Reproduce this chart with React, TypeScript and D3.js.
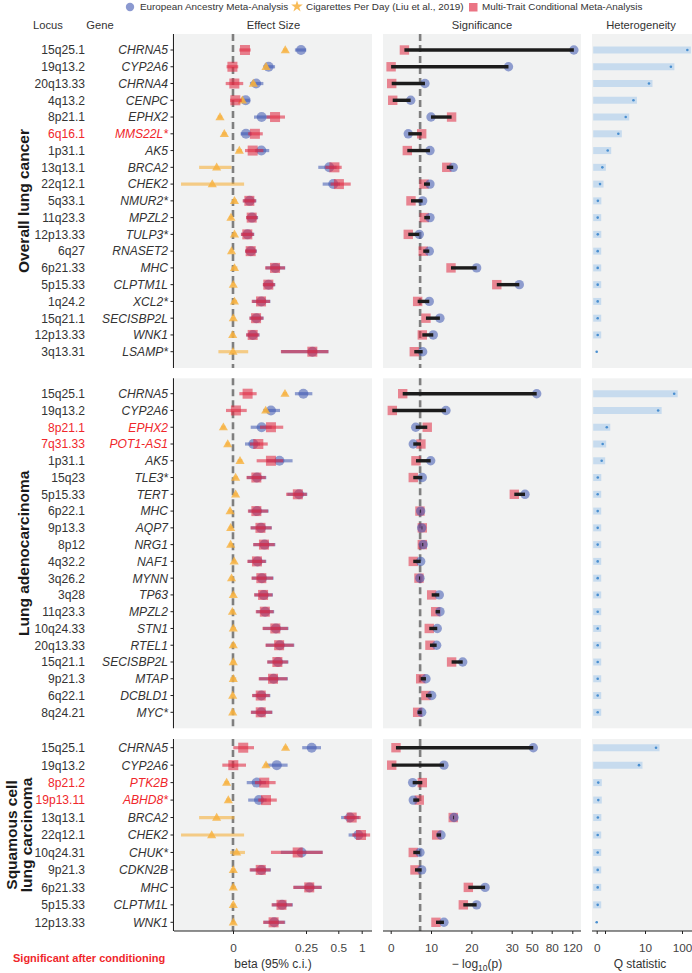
import React, { useEffect, useRef } from "react";
import * as d3 from "d3";

const FONT = "'Liberation Sans', Arial, Helvetica, sans-serif";

// ---------------- DATA ----------------
// [beta, lower 95%, upper 95%]
type CI = [number, number, number];

// Overall lung cancer
const overallLoci = ["15q25.1", "19q13.2", "20q13.33", "4q13.2", "8p21.1", "6q16.1", "1p31.1", "13q13.1", "22q12.1", "5q33.1", "11q23.3", "12p13.33", "6q27", "6p21.33", "5p15.33", "1q24.2", "15q21.1", "12p13.33", "3q13.31"];
const overallGenes = ["CHRNA5", "CYP2A6", "CHRNA4", "CENPC", "EPHX2", "MMS22L*", "AK5", "BRCA2", "CHEK2", "NMUR2*", "MPZL2", "TULP3*", "RNASET2", "MHC", "CLPTM1L", "XCL2*", "SECISBP2L", "WNK1", "LSAMP*"];
const overallHighlight = ["MMS22L*"];
const overallEA: CI[] = [[0.233, 0.212, 0.252], [0.122, 0.104, 0.144], [0.079, 0.058, 0.104], [0.0435, 0.026, 0.058], [0.098, 0.072, 0.127], [0.0445, 0.026, 0.064], [0.097, 0.075, 0.124], [0.43, 0.345, 0.487], [0.461, 0.379, 0.537], [0.057, 0.035, 0.08], [0.065, 0.046, 0.086], [0.05, 0.028, 0.073], [0.061, 0.042, 0.082], [0.145, 0.112, 0.179], [0.122, 0.103, 0.145], [0.097, 0.066, 0.128], [0.08, 0.057, 0.105], [0.068, 0.046, 0.091], [0.3, 0.165, 0.424]];
const overallCPD: CI[] = [[0.179, 0.172, 0.186], [0.113, 0.106, 0.12], [0.0696, 0.062, 0.077], [0.032, 0.025, 0.039], [-0.0445, -0.052, -0.037], [-0.0297, -0.037, -0.022], [0.0217, 0.012, 0.031], [-0.056, -0.116, -0.005], [-0.071, -0.178, 0.038], [0.005, -0.003, 0.013], [-0.007, -0.013, -0.001], [0.005, -0.002, 0.012], [-0.005, -0.011, 0.001], [0.005, -0.005, 0.015], [0.001, -0.005, 0.007], [0.005, -0.004, 0.014], [0.001, -0.006, 0.008], [-0.001, -0.007, 0.005], [0.0, -0.05, 0.052]];
const overallMT: CI[] = [[0.041, 0.0216, 0.0606], [-0.002, -0.022, 0.018], [0.0046, -0.025, 0.035], [0.008, -0.01, 0.03], [0.144, 0.115, 0.178], [0.075, 0.052, 0.102], [0.0674, 0.041, 0.104], [0.47, 0.4, 0.573], [0.513, 0.44, 0.765], [0.056, 0.033, 0.079], [0.064, 0.0445, 0.0845], [0.049, 0.027, 0.072], [0.0606, 0.041, 0.081], [0.144, 0.11, 0.178], [0.121, 0.102, 0.144], [0.096, 0.064, 0.127], [0.079, 0.056, 0.104], [0.0674, 0.0445, 0.09], [0.299, 0.164, 0.423]];
// [-log10 p European ancestry, -log10 p multi-trait conditional]
const overallLogP: [number, number][] = [[123, 3.4], [29.2, 0.1], [8.5, 0.25], [4.96, 0.5], [10.0, 15.1], [4.36, 7.69], [9.74, 4.12], [15.5, 13.9], [9.74, 8.26], [7.93, 5.03], [9.74, 8.33], [7.09, 4.36], [9.57, 8.08], [21.3, 14.95], [37.6, 26.3], [9.57, 6.69], [12.2, 8.75], [10.56, 7.84], [7.93, 5.85]];
const overallQ = [113, 73, 19.7, 7.4, 5.66, 4.0, 1.61, 0.68, 0.4, 0.14, 0.12, 0.13, 0.12, 0.12, 0.12, 0.12, 0.12, 0.12, 0];

// Lung adenocarcinoma
const adenoLoci = ["15q25.1", "19q13.2", "8p21.1", "7q31.33", "1p31.1", "15q23", "5p15.33", "6p22.1", "9p13.3", "8p12", "4q32.2", "3q26.2", "3q28", "11q23.3", "10q24.33", "20q13.33", "15q21.1", "9p21.3", "6q22.1", "8q24.21"];
const adenoGenes = ["CHRNA5", "CYP2A6", "EPHX2", "POT1-AS1", "AK5", "TLE3*", "TERT", "MHC", "AQP7", "NRG1", "NAF1", "MYNN", "TP63", "MPZL2", "STN1", "RTEL1", "SECISBP2L", "MTAP", "DCBLD1", "MYC*"];
const adenoHighlight = ["EPHX2", "POT1-AS1"];
const adenoEA: CI[] = [[0.241, 0.212, 0.299], [0.13, 0.104, 0.161], [0.098, 0.0606, 0.1325], [0.0696, 0.041, 0.0925], [0.159, 0.115, 0.204], [0.082, 0.048, 0.114], [0.226, 0.186, 0.26], [0.082, 0.053, 0.122], [0.096, 0.061, 0.133], [0.108, 0.07, 0.145], [0.084, 0.051, 0.114], [0.099, 0.065, 0.139], [0.105, 0.074, 0.137], [0.11, 0.08, 0.141], [0.147, 0.103, 0.19], [0.16, 0.113, 0.21], [0.154, 0.118, 0.19], [0.139, 0.09, 0.188], [0.097, 0.067, 0.128], [0.097, 0.062, 0.135]];
const adenoCPD: CI[] = [[0.178, 0.171, 0.185], [0.112, 0.105, 0.119], [-0.033, -0.04, -0.026], [-0.018, -0.025, -0.011], [0.024, 0.016, 0.032], [0.009, 0.002, 0.016], [0.009, 0.002, 0.016], [-0.01, -0.016, -0.004], [-0.008, -0.014, -0.002], [-0.008, -0.014, -0.002], [0.004, -0.002, 0.01], [-0.005, -0.011, 0.001], [0.001, -0.006, 0.008], [-0.002, -0.008, 0.004], [0.001, -0.008, 0.01], [0.001, -0.008, 0.01], [0.001, -0.007, 0.009], [0.001, -0.009, 0.011], [-0.001, -0.007, 0.005], [-0.001, -0.007, 0.005]];
const adenoMT: CI[] = [[0.05, 0.0217, 0.081], [0.01, -0.024, 0.047], [0.13, 0.0925, 0.172], [0.0867, 0.058, 0.119], [0.13, 0.081, 0.172], [0.08, 0.046, 0.112], [0.222, 0.182, 0.256], [0.08, 0.051, 0.12], [0.094, 0.06, 0.132], [0.106, 0.069, 0.143], [0.082, 0.049, 0.112], [0.097, 0.063, 0.137], [0.103, 0.072, 0.135], [0.109, 0.078, 0.139], [0.145, 0.101, 0.188], [0.158, 0.111, 0.208], [0.152, 0.117, 0.188], [0.137, 0.088, 0.186], [0.095, 0.065, 0.126], [0.095, 0.061, 0.134]];
const adenoLogP: [number, number][] = [[57.5, 2.98], [13.7, 0.4], [6.2, 9.07], [5.6, 7.5], [9.92, 6.27], [7.84, 5.6], [43.3, 32.6], [7.44, 7.26], [7.69, 7.84], [8.08, 7.84], [7.44, 5.6], [7.26, 7.02], [12.05, 10.17], [12.22, 11.16], [11.55, 9.57], [11.4, 9.74], [17.85, 15.1], [8.75, 7.44], [10.17, 8.75], [7.69, 6.69]];
const adenoQ = [81, 42, 1.4, 0.72, 0.6, 0.13, 0.12, 0.12, 0.12, 0.12, 0.12, 0.12, 0.12, 0.12, 0.12, 0.12, 0.12, 0.12, 0.12, 0.12];

// Squamous cell lung carcinoma
const squamLoci = ["15q25.1", "19q13.2", "8p21.2", "19p13.11", "13q13.1", "22q12.1", "10q24.31", "9p21.3", "6p21.33", "5p15.33", "12p13.33"];
const squamGenes = ["CHRNA5", "CYP2A6", "PTK2B", "ABHD8*", "BRCA2", "CHEK2", "CHUK*", "CDKN2B", "MHC", "CLPTM1L", "WNK1"];
const squamHighlight = ["PTK2B", "ABHD8*"];
const squamEA: CI[] = [[0.294, 0.237, 0.366], [0.15, 0.113, 0.187], [0.081, 0.047, 0.113], [0.089, 0.052, 0.115], [0.75, 0.56, 0.95], [0.927, 0.72, 1.1], [0.235, 0.164, 0.379], [0.097, 0.059, 0.13], [0.277, 0.208, 0.372], [0.168, 0.134, 0.205], [0.141, 0.105, 0.179]];
const squamCPD: CI[] = [[0.18, 0.173, 0.187], [0.113, 0.106, 0.12], [-0.0217, -0.029, -0.014], [-0.016, -0.023, -0.009], [-0.056, -0.116, 0.005], [-0.073, -0.178, 0.038], [0.0126, -0.01, 0.041], [0.001, -0.006, 0.008], [0.001, -0.008, 0.01], [0.001, -0.006, 0.008], [0.001, -0.006, 0.008]];
const squamMT: CI[] = [[0.035, 0.001, 0.072], [0.001, -0.0366, 0.0445], [0.107, 0.075, 0.146], [0.113, 0.0867, 0.15], [0.786, 0.62, 0.98], [0.985, 0.8, 1.18], [0.2215, 0.13, 0.379], [0.095, 0.057, 0.128], [0.275, 0.206, 0.37], [0.166, 0.132, 0.203], [0.139, 0.103, 0.177]];
const squamLogP: [number, number][] = [[52.4, 1.31], [13.2, 0.25], [5.45, 7.84], [5.6, 7.09], [15.7, 15.5], [12.47, 11.4], [7.26, 5.6], [7.69, 6.03], [23.4, 19.24], [21.3, 18.0], [13.2, 11.23]];
const squamQ = [36.8, 8.65, 0.19, 0.19, 0.14, 0.12, 0.12, 0.12, 0.12, 0.12, 0];

// Axis ticks
const effTicks = [0, 0.25, 0.5, 1];
const effTickLabels = ["0", "0.25", "0.5", "1"];
const sigTicks = [0, 10, 20, 30, 50, 80, 120];
const qTicks = [0, 1, 10, 100];
const qTickLabels = ["0", "", "10", "100"];
const GWS = 7.3; // -log10(5e-8)

const legendLabels = ["European Ancestry Meta-Analysis", "Cigarettes Per Day (Liu et al., 2019)", "Multi-Trait Conditional Meta-Analysis"];

// ---------------- LAYOUT ----------------
const EFF_X0 = 175, EFF_X1 = 372;
const SIG_X0 = 383, SIG_X1 = 581;
const Q_X0 = 592, Q_X1 = 692;
const AXIS_Y = 931;

const effScale = d3.scaleLinear().domain([-0.2, 0, 0.25, 0.5, 1]).range([174.6, 233, 306, 338.3, 361.7]);
const sigScale = d3.scaleLinear().domain([0, 10, 20, 30, 50, 80, 120]).range([390.7, 431, 471.4, 511.7, 531.7, 551.7, 572.3]);
const qScale = d3.scaleLinear().domain([0, 1, 10, 100]).range([596.7, 605, 645, 682]);

const BLUE = "#3d55b0";
const RED = "#e02a42";
const ORANGE = "#f7b03c";
const HL = "#f0272b";

interface PanelDef {
  loci: string[]; genes: string[]; highlight: string[];
  ea: CI[]; cpd: CI[]; mt: CI[]; logp: [number, number][]; q: number[];
  strip: string[]; stripX: number[];
  top: number; bottom: number; first: number; last: number;
}

const panels: PanelDef[] = [
  { loci: overallLoci, genes: overallGenes, highlight: overallHighlight, ea: overallEA, cpd: overallCPD, mt: overallMT, logp: overallLogP, q: overallQ, strip: ["Overall lung cancer"], stripX: [28.5], top: 34, bottom: 368, first: 50, last: 351.7 },
  { loci: adenoLoci, genes: adenoGenes, highlight: adenoHighlight, ea: adenoEA, cpd: adenoCPD, mt: adenoMT, logp: adenoLogP, q: adenoQ, strip: ["Lung adenocarcinoma"], stripX: [28.5], top: 378.3, bottom: 728.3, first: 393.7, last: 712.3 },
  { loci: squamLoci, genes: squamGenes, highlight: squamHighlight, ea: squamEA, cpd: squamCPD, mt: squamMT, logp: squamLogP, q: squamQ, strip: ["Squamous cell", "lung carcinoma"], stripX: [16.5, 32], top: 739, bottom: 931, first: 747.7, last: 922.3 },
];

const triPath = d3.symbol().type(d3.symbolTriangle).size(36)() as string;
const starPath = d3.symbol().type(d3.symbolStar).size(42)() as string;

function Panel({ p }: { p: PanelDef }) {
  const y = d3.scalePoint<number>().domain(p.genes.map((_, i) => i)).range([p.first, p.last]);
  const mid = (p.top + p.bottom) / 2;
  return (
    <g>
      <rect x={EFF_X0} y={p.top} width={EFF_X1 - EFF_X0} height={p.bottom - p.top} fill="#f1f2f2" />
      <rect x={SIG_X0} y={p.top} width={SIG_X1 - SIG_X0} height={p.bottom - p.top} fill="#f1f2f2" />
      <rect x={Q_X0} y={p.top} width={Q_X1 - Q_X0} height={p.bottom - p.top} fill="#f1f2f2" />
      {/* strip label */}
      {p.strip.map((s, k) => (
        <text key={k} transform={`translate(${p.stripX[k]},${mid}) rotate(-90)`} textAnchor="middle" fontSize={15.5} fontWeight="bold" fill="#1a1a1a" fontFamily={FONT}>{s}</text>
      ))}
      {/* y axis */}
      <line x1={173.5} x2={173.5} y1={p.top} y2={p.bottom} stroke="#222" strokeWidth={1.1} />
      {p.genes.map((g, i) => {
        const yy = y(i)!;
        const hl = p.highlight.includes(g);
        return (
          <g key={i}>
            <line x1={170.5} x2={173.5} y1={yy} y2={yy} stroke="#222" strokeWidth={1} />
            <text x={85} y={yy} dy="0.36em" textAnchor="end" fontSize={12.1} fill={hl ? HL : "#333"} fontFamily={FONT}>{p.loci[i]}</text>
            <text x={168} y={yy} dy="0.36em" textAnchor="end" fontSize={12.1} fontStyle="italic" fill={hl ? HL : "#333"} fontFamily={FONT}>{g}</text>
          </g>
        );
      })}
      {/* effect size */}
      <line x1={effScale(0)} x2={effScale(0)} y1={p.top} y2={p.bottom} stroke="#7f7f7f" strokeWidth={2.6} strokeDasharray="7 4" />
      {p.genes.map((_, i) => {
        const yy = y(i)!;
        const [eb, el, eh] = p.ea[i];
        const [cb, cl, ch] = p.cpd[i];
        const [mb, ml, mh] = p.mt[i];
        return (
          <g key={i}>
            <line x1={effScale(el)} x2={effScale(eh)} y1={yy} y2={yy} stroke={BLUE} strokeOpacity={0.55} strokeWidth={3.2} />
            <circle cx={effScale(eb)} cy={yy} r={5} fill={BLUE} fillOpacity={0.55} />
            <line x1={effScale(cl)} x2={effScale(ch)} y1={yy} y2={yy} stroke={ORANGE} strokeOpacity={0.6} strokeWidth={3.2} />
            <path d={triPath} transform={`translate(${effScale(cb)},${yy + 0.5})`} fill={ORANGE} fillOpacity={0.8} />
            <line x1={effScale(ml)} x2={effScale(mh)} y1={yy} y2={yy} stroke={RED} strokeOpacity={0.58} strokeWidth={3.2} />
            <rect x={effScale(mb) - 5} y={yy - 5} width={10} height={10} fill={RED} fillOpacity={0.58} />
          </g>
        );
      })}
      {/* significance */}
      <line x1={sigScale(GWS)} x2={sigScale(GWS)} y1={p.top} y2={p.bottom} stroke="#7f7f7f" strokeWidth={2.6} strokeDasharray="7 4" />
      {p.logp.map(([ea, mt], i) => {
        const yy = y(i)!;
        return (
          <g key={i}>
            <rect x={sigScale(mt) - 4.7} y={yy - 4.7} width={9.4} height={9.4} fill={RED} fillOpacity={0.55} />
            <circle cx={sigScale(ea)} cy={yy} r={4.7} fill={BLUE} fillOpacity={0.55} />
            <line x1={sigScale(mt)} x2={sigScale(ea)} y1={yy} y2={yy} stroke="#1c1c1c" strokeWidth={3.4} />
          </g>
        );
      })}
      {/* heterogeneity */}
      {p.q.map((q, i) => {
        const yy = y(i)!;
        return (
          <g key={i}>
            {q > 0 && <line x1={qScale(0)} x2={qScale(q)} y1={yy} y2={yy} stroke="#c7dbee" strokeWidth={7} strokeLinecap="square" />}
            <circle cx={qScale(q)} cy={yy} r={1.3} fill="#4a8fd0" />
          </g>
        );
      })}
    </g>
  );
}

export default function App() {
  const effAx = useRef<SVGGElement>(null);
  const sigAx = useRef<SVGGElement>(null);
  const qAx = useRef<SVGGElement>(null);

  useEffect(() => {
    const style = (sel: d3.Selection<SVGGElement, unknown, null, undefined>) => {
      sel.select(".domain").remove();
      sel.selectAll(".tick line").attr("stroke", "#222");
      sel.selectAll(".tick text").attr("font-size", 11.8).attr("fill", "#444").attr("font-family", FONT);
    };
    if (effAx.current) {
      const s = d3.select(effAx.current);
      s.call(d3.axisBottom(effScale).tickValues(effTicks).tickFormat((_, i) => effTickLabels[i]).tickSize(3).tickSizeOuter(0).tickPadding(10));
      style(s);
    }
    if (sigAx.current) {
      const s = d3.select(sigAx.current);
      s.call(d3.axisBottom(sigScale).tickValues(sigTicks).tickFormat(d3.format("d")).tickSize(3).tickSizeOuter(0).tickPadding(10));
      style(s);
    }
    if (qAx.current) {
      const s = d3.select(qAx.current);
      s.call(d3.axisBottom(qScale).tickValues(qTicks).tickFormat((_, i) => qTickLabels[i]).tickSize(3).tickSizeOuter(0).tickPadding(10));
      style(s);
    }
  }, []);

  return (
    <svg width={692} height={973} style={{ position: "absolute", left: 0, top: 0, background: "#fff" }} fontFamily={FONT}>
      {/* legend */}
      <g fontSize={9.9} fill="#333">
        <circle cx={130} cy={7} r={4.2} fill={BLUE} fillOpacity={0.6} />
        <text x={140} y={7} dy="0.35em">{legendLabels[0]}</text>
        <path d={starPath} transform="translate(297,6.5)" fill={ORANGE} fillOpacity={0.85} />
        <text x={306} y={7} dy="0.35em">{legendLabels[1]}</text>
        <rect x={469} y={3} width={8.5} height={8.5} fill={RED} fillOpacity={0.65} />
        <text x={482} y={7} dy="0.35em">{legendLabels[2]}</text>
      </g>
      {/* headers */}
      <g fontSize={11.2} fill="#333" textAnchor="middle">
        <text x={48} y={25} dy="0.35em">Locus</text>
        <text x={100} y={25} dy="0.35em">Gene</text>
        <text x={(EFF_X0 + EFF_X1) / 2} y={25} dy="0.35em">Effect Size</text>
        <text x={(SIG_X0 + SIG_X1) / 2} y={25} dy="0.35em">Significance</text>
        <text x={(Q_X0 + Q_X1) / 2 - 1} y={25} dy="0.35em">Heterogeneity</text>
      </g>
      {panels.map((p, k) => <Panel key={k} p={p} />)}
      {/* x axes */}
      <line x1={174} x2={EFF_X1} y1={AXIS_Y} y2={AXIS_Y} stroke="#222" strokeWidth={1.1} />
      <line x1={SIG_X0} x2={SIG_X1} y1={AXIS_Y} y2={AXIS_Y} stroke="#222" strokeWidth={1.1} />
      <line x1={Q_X0} x2={Q_X1} y1={AXIS_Y} y2={AXIS_Y} stroke="#222" strokeWidth={1.1} />
      <g ref={effAx} transform={`translate(0,${AXIS_Y})`} />
      <g ref={sigAx} transform={`translate(0,${AXIS_Y})`} />
      <g ref={qAx} transform={`translate(0,${AXIS_Y})`} />
      {/* axis titles */}
      <g fontSize={12} fill="#333" textAnchor="middle">
        <text x={273} y={968}>beta (95% c.i.)</text>
        <text x={477} y={968}>− log<tspan fontSize={8.5} dy={3}>10</tspan><tspan dy={-3}>(p)</tspan></text>
        <text x={640} y={968}>Q statistic</text>
      </g>
      <text x={13} y={958} dy="0.35em" fontSize={11} fontWeight="bold" fill={HL}>Significant after conditioning</text>
    </svg>
  );
}
